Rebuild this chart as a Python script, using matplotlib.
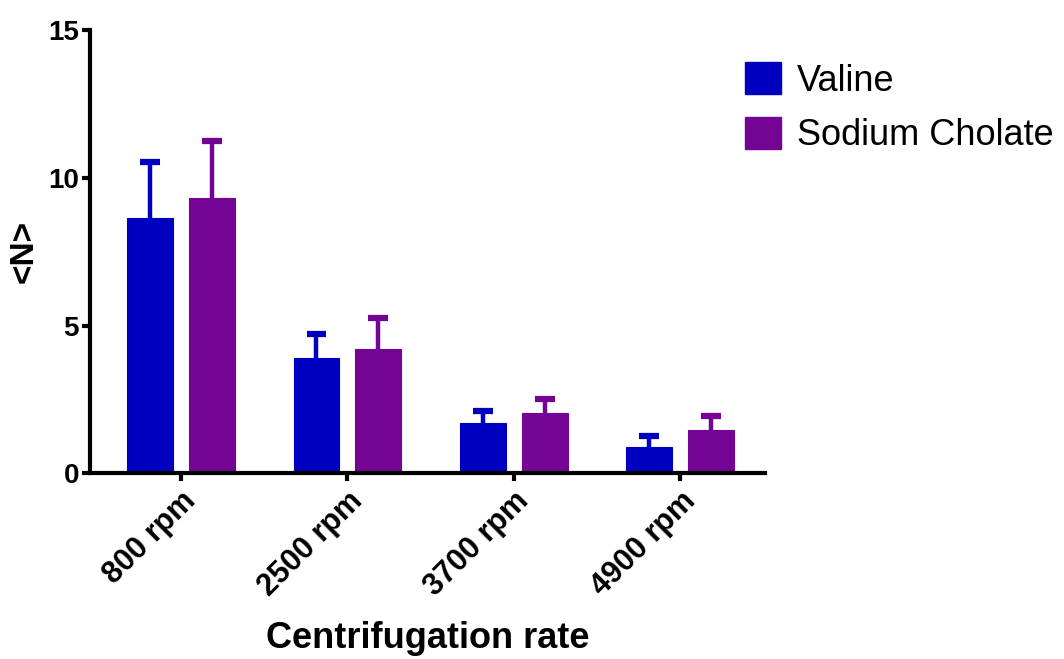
import matplotlib
matplotlib.use("Agg")
import matplotlib.pyplot as plt
import numpy as np
from matplotlib.patches import Patch

categories = ["800 rpm", "2500 rpm", "3700 rpm", "4900 rpm"]
valine = [8.63, 3.89, 1.69, 0.88]
valine_err = [1.90, 0.82, 0.41, 0.37]
cholate = [9.31, 4.20, 2.03, 1.46]
cholate_err = [1.93, 1.05, 0.48, 0.47]
series_names = ["Valine", "Sodium Cholate"]

blue = "#0000C0"
purple = "#740594"

plt.rcParams["font.family"] = ["Liberation Sans", "DejaVu Sans"]

fig = plt.figure(figsize=(10.64, 6.59), dpi=100)
ax = fig.add_axes([0.0846, 0.282, 0.6345, 0.672])

x = np.arange(len(categories))
w = 0.276
off = 0.186
cap = 0.06
for vals, errs, col, sign in [(valine, valine_err, blue, -1), (cholate, cholate_err, purple, 1)]:
    xs = x + sign * off
    vals = np.asarray(vals)
    tops = vals + np.asarray(errs)
    ax.bar(xs, vals, width=w, color=col, edgecolor=col, linewidth=0.8, zorder=2)
    # upper-only error bars
    ax.vlines(xs, vals, tops, colors=col, linewidth=3.2, zorder=1)
    ax.hlines(tops, xs - cap, xs + cap, colors=col, linewidth=4.5, zorder=1)

ax.set_xlim(-0.547, 3.51)
ax.set_ylim(0, 15)
ax.set_yticks([0, 5, 10, 15])
ax.set_xticks(x)
ax.set_xticklabels(categories, rotation=45, ha="right", rotation_mode="anchor",
                   fontsize=22, fontweight="bold")
for lab in ax.get_yticklabels():
    lab.set_fontsize(20)
    lab.set_fontweight("bold")

for s in ["top", "right"]:
    ax.spines[s].set_visible(False)
for s in ["left", "bottom"]:
    ax.spines[s].set_linewidth(3)
ax.tick_params(axis="both", width=3, length=6, pad=3)
ax.tick_params(axis="y", pad=2)

ax.set_ylabel("<N>", fontsize=24, fontweight="bold", labelpad=6)
ax.set_xlabel("Centrifugation rate", fontsize=26, fontweight="bold", labelpad=14)

handles = [Patch(facecolor=blue, edgecolor=blue), Patch(facecolor=purple, edgecolor=purple)]
fig.legend(handles, series_names, loc="upper left", bbox_to_anchor=(0.670, 0.955),
           frameon=False, fontsize=26, handlelength=1.0, handleheight=1.0,
           handletextpad=0.42, labelspacing=0.5)

fig.savefig("out.png", dpi=100)
